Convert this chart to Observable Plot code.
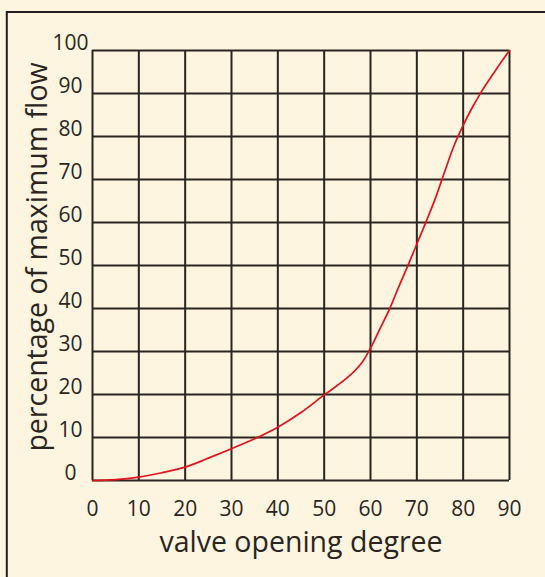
<!DOCTYPE html>
<html>
<head>
<meta charset="utf-8">
<script src="https://cdn.jsdelivr.net/npm/d3@7"></script>
<script src="https://cdn.jsdelivr.net/npm/@observablehq/plot@0.6"></script>
<style>
  html, body { margin: 0; padding: 0; background: #fdf5df; }
  #chart svg { display: block; }
</style>
</head>
<body>
<div id="chart"></div>
<script>
const opening = [0, 5, 10, 15, 20, 25, 30, 35, 40, 45, 50, 55, 58, 60, 62, 64, 66, 68, 70, 72, 74, 76, 78, 80, 82, 84, 86, 88, 90];
const flowPct = [0, 0.2, 0.8, 1.8, 3.1, 5.2, 7.4, 9.7, 12.4, 15.8, 19.9, 23.9, 27.2, 30.8, 35.2, 39.6, 44.8, 49.8, 55, 60.2, 65.6, 71.8, 77.8, 82.6, 86.8, 90.5, 93.8, 97, 100];
const xTicks = [0, 10, 20, 30, 40, 50, 60, 70, 80, 90];
const yTicks = [0, 10, 20, 30, 40, 50, 60, 70, 80, 90, 100];
const xTitle = "valve opening degree";
const yTitle = "percentage of maximum flow";

const data = opening.map((x, i) => ({x, y: flowPct[i]}));
const ink = "#2b2522";
const font = "'Open Sans', 'Noto Sans', sans-serif";

const chart = Plot.plot({
  width: 545,
  height: 577,
  marginLeft: 92,
  marginRight: 36,
  marginTop: 50,
  marginBottom: 97,
  style: {background: "#fdf5df", color: ink, fontFamily: font, fontSize: "21px"},
  x: {domain: [0, 90]},
  y: {domain: [0, 100]},
  marks: [
    Plot.frame({stroke: "#231f20", strokeWidth: 2, insetLeft: -(92 - 6.3), insetTop: -(50 - 11.5), insetRight: -200, insetBottom: -300}),
    Plot.gridX(xTicks, {stroke: ink, strokeOpacity: 1, strokeWidth: 2}),
    Plot.gridY(yTicks, {stroke: ink, strokeOpacity: 1, strokeWidth: 2}),
    Plot.axisX(xTicks, {tickSize: 0, tickPadding: 21, label: null, fontSize: 21, fill: ink}),
    Plot.axisY(yTicks, {tickSize: 0, tickPadding: 22, textAnchor: "middle", dy: -7, label: null, fontSize: 21, fill: ink}),
    Plot.line(data, {x: "x", y: "y", stroke: "#e4121c", strokeWidth: 1.7, curve: "catmull-rom"}),
    Plot.text([xTitle], {frameAnchor: "bottom", dy: 71, text: d => d, fontSize: 28.5, fill: ink, fontFamily: font}),
    Plot.text([yTitle], {frameAnchor: "left", textAnchor: "middle", dx: -55, dy: -8.5, rotate: -90, text: d => d, fontSize: 28.5, fill: ink, fontFamily: font})
  ]
});
document.getElementById("chart").appendChild(chart);
</script>
</body>
</html>
